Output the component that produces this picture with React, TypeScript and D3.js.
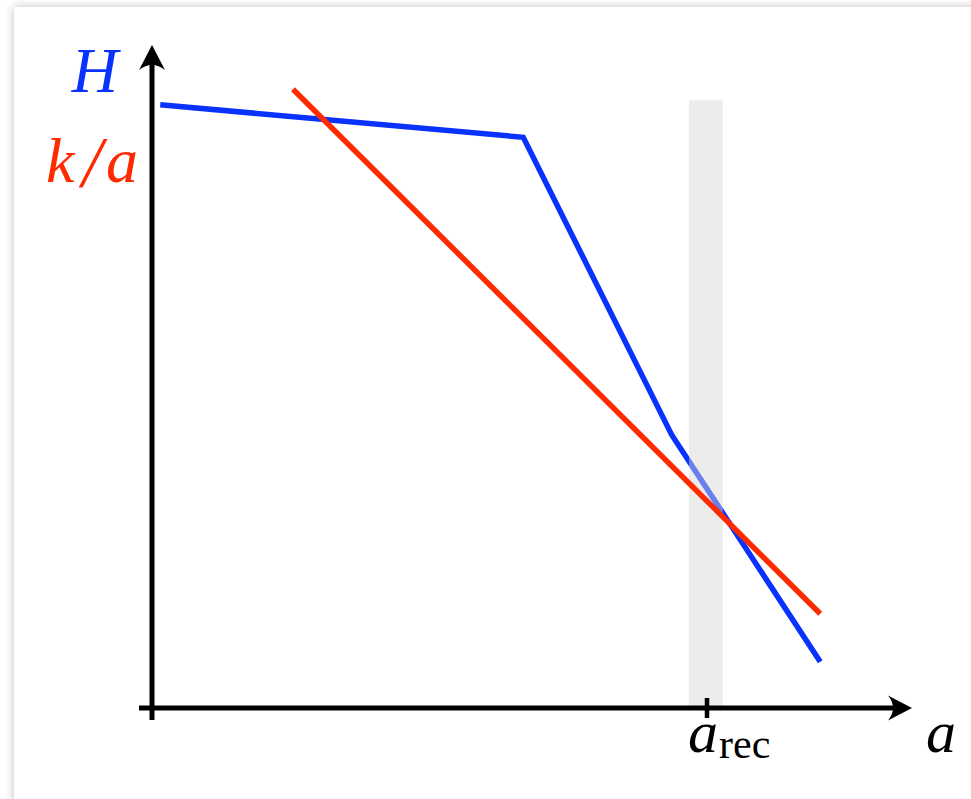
import React from 'react';
import * as d3 from 'd3';

// H(a): piecewise linear curve
const hA = [1.1, 49.5, 69.3, 89.1];
const hV = [92.8, 87.8, 42, 7.1];
// k/a line end points
const kA = [18.8, 89.1];
const kV = [95.2, 14.5];
// recommended a and its band
const aRec = 74;
const band = [71.6, 76.1];
const bandTop = 93.5;

const W = 971;
const H = 799;

const App = () => {
  const x = d3.scaleLinear().domain([0, 100]).range([152, 902]);
  const y = d3.scaleLinear().domain([0, 100]).range([708, 58]);

  const line = d3
    .line<[number, number]>()
    .x((d) => x(d[0]))
    .y((d) => y(d[1]));

  const hPts = hA.map((a, i) => [a, hV[i]] as [number, number]);
  const kPts = kA.map((a, i) => [a, kV[i]] as [number, number]);

  const ox = x(0);
  const oy = y(0);
  const font = '"Liberation Serif", "DejaVu Serif", serif';

  return (
    <svg
      width={W}
      height={H}
      style={{ position: 'absolute', left: 0, top: 0 }}
    >
      <defs>
        <filter id="shadow" x="-5%" y="-5%" width="120%" height="120%">
          <feDropShadow dx="0" dy="0" stdDeviation="5" floodColor="#000" floodOpacity="0.25" />
        </filter>
      </defs>
      <rect x={0} y={0} width={W} height={H} fill="#fff" />
      <rect x={14} y={7} width={W + 40} height={H + 40} fill="#fff" filter="url(#shadow)" />

      {/* H curve */}
      <path d={line(hPts) || ''} fill="none" stroke="#0a32ff" strokeWidth={5.5} />

      {/* band */}
      <rect
        x={x(band[0])}
        y={y(bandTop)}
        width={x(band[1]) - x(band[0])}
        height={oy - y(bandTop)}
        fill="#d7d7d7"
        opacity={0.47}
      />

      {/* k/a */}
      <path d={line(kPts) || ''} fill="none" stroke="#ff2a00" strokeWidth={5.5} />

      {/* axes */}
      <line x1={ox} y1={oy + 12} x2={ox} y2={60} stroke="#000" strokeWidth={5} />
      <line x1={ox - 13} y1={oy} x2={895} y2={oy} stroke="#000" strokeWidth={5} />
      <path
        d={`M${ox},45 L${ox + 13},70 Q${ox},60 ${ox - 13},70 Z`}
        fill="#000"
      />
      <path d={`M912,${oy} L888,${oy - 12.5} Q898,${oy} 888,${oy + 12.5} Z`} fill="#000" />

      {/* a_rec tick */}
      <line x1={x(aRec)} y1={oy - 10} x2={x(aRec)} y2={oy + 10} stroke="#000" strokeWidth={4.5} />

      {/* labels */}
      <text x={118} y={92} fontFamily={font} fontStyle="italic" fontSize={64} fill="#0a32ff" textAnchor="end">
        H
      </text>
      <g fontFamily={font} fontSize={64} fill="#ff2a00">
        <text x={46} y={182} fontStyle="italic">k</text>
        <text x={82} y={186} fontSize={72} fontStyle="italic">/</text>
        <text x={106} y={182} fontStyle="italic">a</text>
      </g>
      <text x={688} y={752} fontFamily={font} fontSize={60} fill="#000">
        <tspan fontStyle="italic">a</tspan>
        <tspan fontSize={42} dy={6} dx={1}>rec</tspan>
      </text>
      <text x={926} y={752} fontFamily={font} fontStyle="italic" fontSize={60} fill="#000">
        a
      </text>
    </svg>
  );
};

export default App;
